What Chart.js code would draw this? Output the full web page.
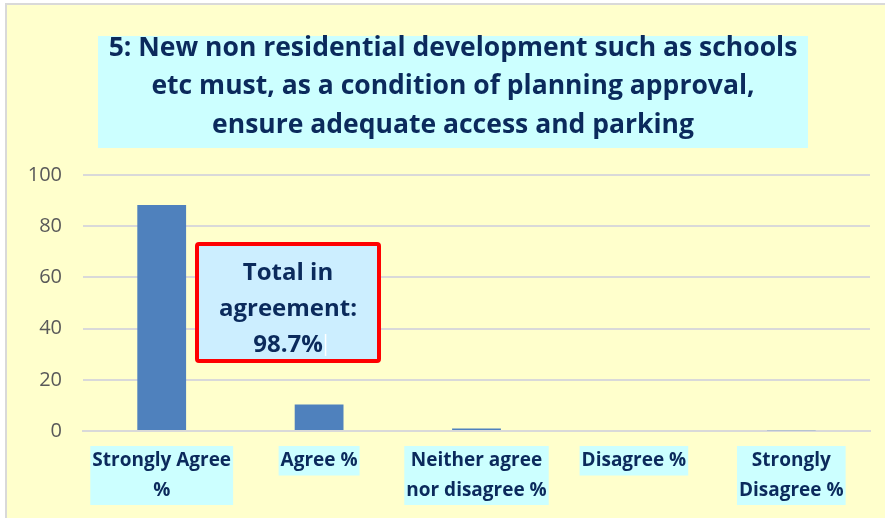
<!DOCTYPE html>
<html>
<head>
<meta charset="utf-8">
<script src="https://cdn.jsdelivr.net/npm/chart.js@4"></script>
<style>
    body { margin: 0; background: #fff; }
    .frame {
        position: absolute; left: 5px; top: 3px; width: 880px; height: 515px;
        border-left: 2px solid #d9d9d9; border-top: 2px solid #d9d9d9;
        background: #ffffcc;
    }
    canvas { position: absolute; left: 0; top: 0; }
</style>
</head>
<body>
<div class="frame"></div>
<canvas id="surveyChart" width="885" height="518"></canvas>
<script>
// Question 5 survey results
const categories = [['Strongly Agree', '%'], 'Agree %', ['Neither agree', 'nor disagree %'], 'Disagree %', ['Strongly', 'Disagree %']];
const percentages = [88.3, 10.4, 1.0, 0, 0.3];
const yTicks = [0, 20, 40, 60, 80, 100];
const titleLines = ['5: New non residential development such as schools', 'etc must, as a condition of planning approval,', 'ensure adequate access and parking'];
const calloutLines = ['Total in', 'agreement:', '98.7%'];

const navy = '#0b2a5c';
const font = '"Open Sans", "Noto Sans", sans-serif';
const labelLine = 29.5;
const labelPad = 15;

// cyan boxes behind the category labels
const labelBackdrops = {
    id: 'labelBackdrops',
    beforeDraw(chart) {
        const ctx = chart.ctx;
        const xs = chart.scales.x;
        ctx.save();
        ctx.font = 'bold 19px ' + font;
        ctx.fillStyle = '#ccffff';
        categories.forEach((label, i) => {
            const lines = Array.isArray(label) ? label : [label];
            const w = Math.max(...lines.map(l => ctx.measureText(l).width)) + 4;
            const cx = xs.getPixelForTick(i);
            ctx.fillRect(cx - w / 2, xs.top + labelPad, w, lines.length * labelLine);
        });
        ctx.restore();
    }
};

// title box and the red callout are drawn straight on the canvas
const boxesPlugin = {
    id: 'boxes',
    afterDraw(chart) {
        const ctx = chart.ctx;
        ctx.save();
        // title
        ctx.fillStyle = '#ccffff';
        ctx.fillRect(98, 36, 710, 112);
        ctx.fillStyle = navy;
        ctx.font = 'bold 26.5px ' + font;
        ctx.textAlign = 'center';
        ctx.textBaseline = 'middle';
        titleLines.forEach((line, i) => ctx.fillText(line, 453, 48 + i * 38.5));

        // callout
        ctx.fillStyle = '#cceeff';
        ctx.fillRect(197, 244, 182, 117);
        ctx.strokeStyle = '#ff0000';
        ctx.lineWidth = 4;
        ctx.beginPath();
        ctx.roundRect(197, 244, 182, 117, 2);
        ctx.stroke();
        ctx.fillStyle = navy;
        ctx.font = 'bold 24px ' + font;
        calloutLines.forEach((line, i) => ctx.fillText(line, 288, 273 + i * 36));
        const w = ctx.measureText(calloutLines[2]).width;
        ctx.fillStyle = '#ffffff';
        ctx.fillRect(288 + w / 2 + 2, 334, 1.5, 22);
        ctx.restore();
    }
};

new Chart(document.getElementById('surveyChart'), {
    type: 'bar',
    data: {
        labels: categories,
        datasets: [{
            data: percentages,
            backgroundColor: '#4f81bd',
            barPercentage: 0.31,
            categoryPercentage: 1
        }]
    },
    options: {
        responsive: false,
        animation: false,
        layout: {
            padding: { top: 175, right: 15, left: 28, bottom: 13 }
        },
        plugins: {
            legend: { display: false },
            tooltip: { enabled: false }
        },
        scales: {
            y: {
                min: 0,
                max: 100,
                afterBuildTicks: axis => { axis.ticks = yTicks.map(v => ({ value: v })); },
                afterFit: axis => { axis.width = 55; },
                border: { display: false },
                grid: { color: '#d9d9d9', lineWidth: 2, drawTicks: false },
                ticks: {
                    color: '#595959',
                    padding: 21,
                    font: { size: 20, family: font }
                }
            },
            x: {
                afterFit: axis => { axis.height = labelPad + 2 * labelLine; },
                border: { color: '#d9d9d9', width: 2 },
                grid: { display: false, drawTicks: false },
                ticks: {
                    color: navy,
                    maxRotation: 0,
                    autoSkip: false,
                    padding: labelPad,
                    font: { size: 19, weight: 'bold', family: font, lineHeight: labelLine + 'px' }
                }
            }
        }
    },
    plugins: [labelBackdrops, boxesPlugin]
});
</script>
</body>
</html>
